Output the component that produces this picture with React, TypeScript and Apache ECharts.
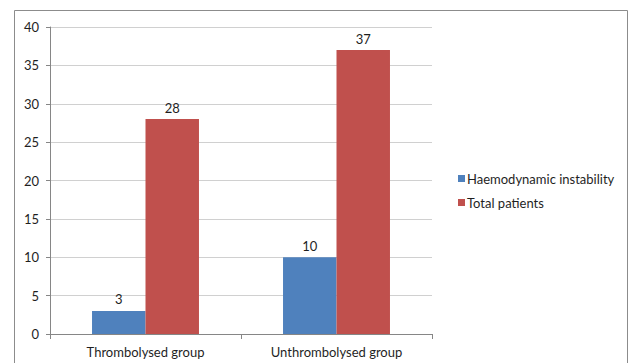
import React, { useEffect, useRef } from "react";
import * as echarts from "echarts";

const categories = ["Thrombolysed group", "Unthrombolysed group"];
const seriesNames = ["Haemodynamic instability", "Total patients"];
const haemodynamicInstability = [3, 10];
const totalPatients = [28, 37];
const colors = ["#4F81BD", "#C0504D"];

const FONT = "Lato, 'Open Sans', sans-serif";
const TEXT = "#1f1f1f";

export default function App() {
  const ref = useRef<HTMLDivElement>(null);

  useEffect(() => {
    if (!ref.current) return;
    const chart = echarts.init(ref.current, undefined, { renderer: "svg" });
    const labelStyle = {
      show: true,
      position: "top" as const,
      distance: 5,
      color: TEXT,
      fontSize: 13,
      fontFamily: FONT,
    };
    chart.setOption({
      animation: false,
      backgroundColor: "#ffffff",
      textStyle: { fontFamily: FONT },
      graphic: [
        {
          type: "rect",
          shape: { x: 14.5, y: 10.5, width: 613, height: 360 },
          style: { fill: "none", stroke: "#8c8c8c", lineWidth: 1 },
          silent: true,
        },
      ],
      grid: { left: 50, right: 197, top: 27, bottom: 29, containLabel: false },
      legend: {
        orient: "vertical",
        left: 453,
        top: 167,
        icon: "rect",
        itemWidth: 7,
        itemHeight: 7,
        itemGap: 11,
        textStyle: { fontSize: 13, color: TEXT, fontFamily: FONT, padding: [0, 0, 0, -3] },
        data: seriesNames,
      },
      xAxis: {
        type: "category",
        data: categories,
        axisLine: { lineStyle: { color: "#868686" } },
        axisTick: { show: true, length: 5, lineStyle: { color: "#868686" } },
        axisLabel: { color: TEXT, fontSize: 13, margin: 11, fontFamily: FONT },
      },
      yAxis: {
        type: "value",
        min: 0,
        max: 40,
        interval: 5,
        axisLine: { show: true, lineStyle: { color: "#868686" } },
        axisTick: { show: true, length: 4, lineStyle: { color: "#868686" } },
        axisLabel: { color: TEXT, fontSize: 13, margin: 11, fontFamily: FONT },
        splitLine: { lineStyle: { color: "#d0d0d0" } },
      },
      series: [
        {
          name: seriesNames[0],
          type: "bar",
          data: haemodynamicInstability,
          itemStyle: { color: colors[0] },
          barGap: "0%",
          barCategoryGap: "44%",
          label: labelStyle,
        },
        {
          name: seriesNames[1],
          type: "bar",
          data: totalPatients,
          itemStyle: { color: colors[1] },
          barGap: "0%",
          barCategoryGap: "44%",
          label: labelStyle,
        },
      ],
    });
    return () => chart.dispose();
  }, []);

  return (
    <div
      ref={ref}
      style={{ position: "fixed", left: 0, top: 0, width: 629, height: 363 }}
    />
  );
}
